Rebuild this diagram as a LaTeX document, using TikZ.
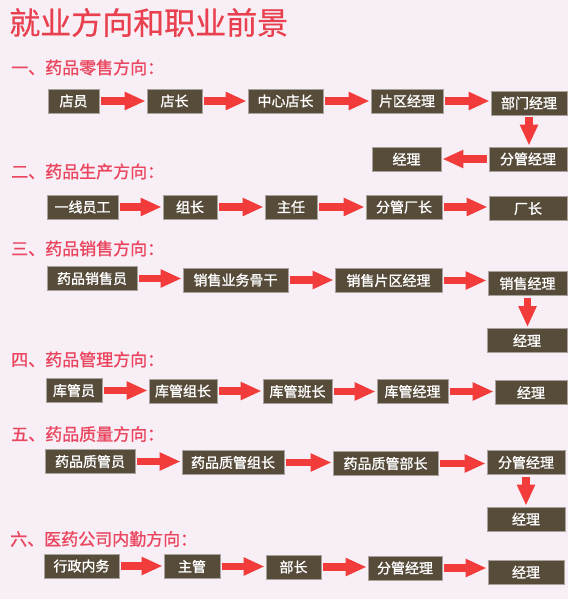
\documentclass[tikz,border=0pt]{standalone}
\usepackage{fontspec}
\newfontfamily\cjk{Noto Sans CJK SC}[FakeBold=0.6]
\newfontfamily\cjkb{Noto Sans CJK SC}[FakeBold=1.2]
\usetikzlibrary{arrows.meta}
\definecolor{bg}{HTML}{F7EFF5}
\definecolor{boxfill}{HTML}{574B3A}
\definecolor{boxline}{HTML}{A8A29C}
\definecolor{arrred}{HTML}{F23C3C}
\definecolor{titlered}{HTML}{E9404F}
\definecolor{hdrred}{HTML}{EB4660}
\begin{document}
\begin{tikzpicture}[x=1pt,y=-1pt,
  box/.style={draw=boxline, line width=0.8pt, fill=boxfill, text=white,
    font=\cjkb\fontsize{14}{14}\selectfont, inner sep=0pt, minimum height=24pt},
  hdr/.style={anchor=west, inner sep=0pt, text=hdrred, font=\cjkb\fontsize{17}{17}\selectfont},
  ttl/.style={anchor=west, inner sep=0pt, text=titlered, font=\cjk\fontsize{31}{31}\selectfont},
  arr/.style={draw=arrred, line width=7.5pt, -{Triangle[length=21pt,width=17pt]},
    shorten <=2pt, shorten >=1pt}]
\fill[bg] (0,0) rectangle (568,599);
\useasboundingbox (0,0) rectangle (568,599);

\node[ttl] (title) at (9,22.5) {就业方向和职业前景};

% Section 1
\node[hdr] (h1) at (11,67.5) {一、药品零售方向：};
\node[box, minimum width=51pt] (a1) at (73.5,101) {店员};
\node[box, minimum width=55pt] (a2) at (174.5,101) {店长};
\node[box, minimum width=75pt] (a3) at (285.5,101) {中心店长};
\node[box, minimum width=72pt] (a4) at (407,101) {片区经理};
\node[box, minimum width=76pt] (a5) at (529,103) {部门经理};
\node[box, minimum width=78pt] (a6) at (528,159) {分管经理};
\node[box, minimum width=69pt] (a7) at (406.5,159) {经理};
\draw[arr] (a1.east) -- (a1.east -| a2.west);
\draw[arr] (a2.east) -- (a2.east -| a3.west);
\draw[arr] (a3.east) -- (a3.east -| a4.west);
\draw[arr] (a4.east) -- (a4.east -| a5.west);
\draw[arr] (a5.south) -- (a5.south |- a6.north);
\draw[arr] (a6.west) -- (a6.west -| a7.east);

% Section 2
\node[hdr] (h2) at (11,171.5) {二、药品生产方向：};
\node[box, minimum width=71pt] (b1) at (82.5,207) {一线员工};
\node[box, minimum width=54pt] (b2) at (190,207) {组长};
\node[box, minimum width=52pt] (b3) at (291,207) {主任};
\node[box, minimum width=76pt] (b4) at (404,207) {分管厂长};
\node[box, minimum width=78pt] (b5) at (528,208.5) {厂长};
\draw[arr] (b1.east) -- (b1.east -| b2.west);
\draw[arr] (b2.east) -- (b2.east -| b3.west);
\draw[arr] (b3.east) -- (b3.east -| b4.west);
\draw[arr] (b4.east) -- (b4.east -| b5.west);

% Section 3
\node[hdr] (h3) at (11,248.5) {三、药品销售方向：};
\node[box, minimum width=90pt] (c1) at (92,278.5) {药品销售员};
\node[box, minimum width=105pt] (c2) at (235.5,280) {销售业务骨干};
\node[box, minimum width=107pt] (c3) at (388.5,280.5) {销售片区经理};
\node[box, minimum width=79pt] (c4) at (527.5,283.5) {销售经理};
\node[box, minimum width=80pt] (c5) at (527,340.5) {经理};
\draw[arr] (c1.east) -- (c1.east -| c2.west);
\draw[arr] (c2.east) -- (c2.east -| c3.west);
\draw[arr] (c3.east) -- (c3.east -| c4.west);
\draw[arr] (c4.south) -- (c4.south |- c5.north);

% Section 4
\node[hdr] (h4) at (11,359.5) {四、药品管理方向：};
\node[box, minimum width=56pt] (d1) at (74,390.5) {库管员};
\node[box, minimum width=68pt] (d2) at (183,391) {库管组长};
\node[box, minimum width=69pt] (d3) at (297.5,391.5) {库管班长};
\node[box, minimum width=71pt] (d4) at (412.5,391.5) {库管经理};
\node[box, minimum width=72pt] (d5) at (531,392.5) {经理};
\draw[arr] (d1.east) -- (d1.east -| d2.west);
\draw[arr] (d2.east) -- (d2.east -| d3.west);
\draw[arr] (d3.east) -- (d3.east -| d4.west);
\draw[arr] (d4.east) -- (d4.east -| d5.west);

% Section 5
\node[hdr] (h5) at (11,434) {五、药品质量方向：};
\node[box, minimum width=90pt] (e1) at (90,461.5) {药品质管员};
\node[box, minimum width=102pt] (e2) at (233,462.5) {药品质管组长};
\node[box, minimum width=105pt] (e3) at (385.5,463.5) {药品质管部长};
\node[box, minimum width=78pt] (e4) at (526,462.5) {分管经理};
\node[box, minimum width=78pt] (e5) at (526,519) {经理};
\draw[arr] (e1.east) -- (e1.east -| e2.west);
\draw[arr] (e2.east) -- (e2.east -| e3.west);
\draw[arr] (e3.east) -- (e3.east -| e4.west);
\draw[arr] (e4.south) -- (e4.south |- e5.north);

% Section 6
\node[hdr] (h6) at (10,539) {六、医药公司内勤方向：};
\node[box, minimum width=75pt] (f1) at (81.5,566) {行政内务};
\node[box, minimum width=56pt] (f2) at (192,566.5) {主管};
\node[box, minimum width=55pt] (f3) at (293.5,567) {部长};
\node[box, minimum width=74pt] (f4) at (405,568) {分管经理};
\node[box, minimum width=76pt] (f5) at (526,572) {经理};
\draw[arr] (f1.east) -- (f1.east -| f2.west);
\draw[arr] (f2.east) -- (f2.east -| f3.west);
\draw[arr] (f3.east) -- (f3.east -| f4.west);
\draw[arr] (f4.east) -- (f4.east -| f5.west);
\end{tikzpicture}
\end{document}
